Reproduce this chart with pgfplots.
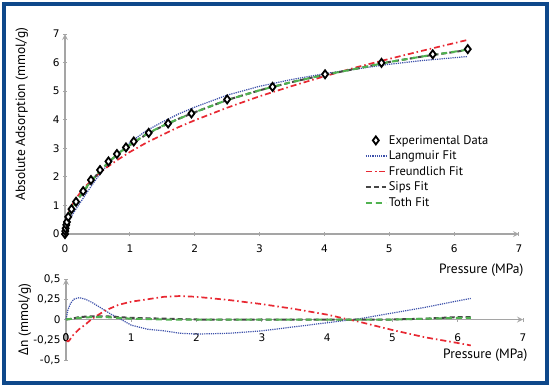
\documentclass[border=0pt]{standalone}
\usepackage{pgfplots}
\pgfplotsset{compat=1.18}
\usepackage{fontspec}
\setmainfont{PT Sans}
\newfontfamily\tickfont{DejaVu Sans}
\newfontfamily\greekfont{Open Sans}
\definecolor{frameblue}{RGB}{14,72,138}
\definecolor{lblue}{RGB}{60,80,170}
\definecolor{fred}{RGB}{232,40,50}
\definecolor{sgray}{RGB}{70,70,70}
\definecolor{tgreen}{RGB}{80,178,80}
\definecolor{axgray}{RGB}{165,165,165}

\pgfplotstableread{
x y
0 0
0.005 0.10
0.01 0.20
0.02 0.32
0.03 0.42
0.05 0.60
0.10 0.87
0.17 1.13
0.28 1.50
0.40 1.89
0.54 2.24
0.67 2.54
0.80 2.80
0.94 3.03
1.06 3.24
1.29 3.54
1.59 3.87
1.95 4.22
2.50 4.71
3.20 5.15
4.01 5.59
4.88 5.99
5.67 6.29
6.21 6.47
}\expdata

% x  Langmuir  Freundlich  Sips  Toth
\pgfplotstableread{
x L F S T
0 0 0 0 0
0.005 0.07 0.24 0.10 0.10
0.01 0.13 0.33 0.18 0.18
0.02 0.21 0.45 0.29 0.30
0.05 0.43 0.70 0.59 0.60
0.10 0.63 0.97 0.86 0.87
0.20 0.98 1.34 1.22 1.23
0.30 1.32 1.63 1.53 1.55
0.40 1.66 1.86 1.83 1.84
0.50 1.98 2.07 2.10 2.11
0.60 2.27 2.26 2.34 2.35
0.70 2.54 2.42 2.57 2.57
0.80 2.78 2.58 2.77 2.78
1.00 3.20 2.87 3.11 3.12
1.25 3.61 3.19 3.48 3.49
1.50 3.92 3.47 3.77 3.78
1.75 4.20 3.74 4.03 4.03
2.00 4.44 3.98 4.26 4.26
2.50 4.86 4.42 4.69 4.69
3.00 5.17 4.82 5.03 5.03
3.50 5.41 5.18 5.32 5.32
4.00 5.61 5.52 5.57 5.57
4.50 5.78 5.84 5.79 5.79
5.00 5.94 6.13 6.02 6.02
5.50 6.07 6.41 6.21 6.21
6.00 6.17 6.68 6.37 6.38
6.20 6.21 6.79 6.44 6.45
}\fits

% residuals
\pgfplotstableread{
x L
0 0
0.03 0.12
0.07 0.20
0.12 0.25
0.20 0.27
0.30 0.25
0.40 0.21
0.50 0.16
0.60 0.11
0.70 0.06
0.80 0.02
1.00 -0.07
1.25 -0.12
1.50 -0.14
1.75 -0.17
2.00 -0.18
2.50 -0.17
3.00 -0.14
3.50 -0.09
4.00 -0.04
4.50 0.01
5.00 0.08
5.50 0.15
6.00 0.23
6.20 0.26
}\resL

\pgfplotstableread{
x F
0.01 -0.26
0.03 -0.27
0.05 -0.26
0.10 -0.20
0.20 -0.12
0.30 -0.06
0.40 0.01
0.50 0.06
0.60 0.11
0.80 0.18
1.00 0.22
1.25 0.25
1.50 0.28
1.75 0.29
2.00 0.28
2.50 0.24
3.00 0.19
3.50 0.13
4.00 0.06
4.50 -0.03
5.00 -0.13
5.50 -0.22
6.00 -0.29
6.20 -0.32
}\resF

\pgfplotstableread{
x S T
0 0 0
0.10 0.01 0.01
0.20 0.03 0.02
0.40 0.04 0.03
0.60 0.04 0.03
0.80 0.03 0.02
1.00 0.02 0.01
1.50 0.01 0.00
2.00 0.00 0.00
3.00 0.00 0.00
4.00 0.00 0.00
5.00 0.00 0.00
5.50 0.01 0.01
6.00 0.03 0.02
6.20 0.03 0.02
}\resST

\begin{document}
\begin{tikzpicture}[x=1pt,y=1pt]
\path[use as bounding box] (0,0) rectangle (551,389);
\fill[white] (0,0) rectangle (551,389);
\draw[line width=4pt, draw=frameblue] (4,6) rectangle (547,385);

\pgfplotsset{
  lang/.style={lblue, line width=1.2pt, densely dotted},
  freu/.style={fred, line width=1.7pt, dash pattern=on 6pt off 3pt on 1.5pt off 3pt},
  sips/.style={sgray, line width=2pt, dash pattern=on 5pt off 3pt},
  toth/.style={tgreen, line width=2pt, dash pattern=on 6pt off 4pt},
  common/.style={
    scale only axis,
    axis line style={-, draw=axgray, line width=1.6pt},
    inner axis line style={-},
    tick style={draw=axgray, line width=1pt},
    major tick length=4pt,
    tick align=outside,
    /pgf/number format/assume math mode=true,
    tick label style={font=\tickfont\fontsize{10.5}{12}\selectfont, black},
    xmin=0, xmax=7, xtick={0,...,7},
    clip=false,
  }
}

\begin{axis}[common,
  at={(65pt,155pt)}, anchor=south west,
  width=454pt, height=200pt,
  axis lines=left,
  ymin=0, ymax=7, ytick={0,...,7},
  x tick label style={yshift=-5pt},
  xlabel={Pressure (MPa)},
  xlabel style={at={(axis description cs:1,0)}, anchor=north east, xshift=8pt, yshift=-26pt, font=\fontsize{13.5}{15}\selectfont},
  ylabel={Absolute Adsorption (mmol/g)},
  ylabel style={at={(axis description cs:-0.095,0.6)}, anchor=center, font=\fontsize{13.5}{15}\selectfont},
  legend style={at={(axis description cs:0.66,0.505)}, anchor=north west, draw=none, fill=none,
    font=\fontsize{12.5}{12.5}\selectfont, row sep=1.2pt, inner sep=0pt},
  legend cell align=left,
  legend image code/.code={\draw[mark repeat=2,mark phase=2,#1] plot coordinates {(0pt,0pt) (10pt,0pt) (20pt,0pt)};},
]
\addplot[only marks, mark=diamond*, mark size=4pt, mark options={draw=black, fill=white, line width=1.8pt, solid}]
  table[x=x,y=y] {\expdata};
\addlegendentry{Experimental Data}
\addplot[lang] table[x=x,y=L] {\fits};
\addlegendentry{Langmuir Fit}
\addplot[freu] table[x=x,y=F] {\fits};
\addlegendentry{Freundlich Fit}
\addplot[sips] table[x=x,y=S] {\fits};
\addlegendentry{Sips Fit}
\addplot[toth] table[x=x,y=T] {\fits};
\addlegendentry{Toth Fit}
\end{axis}

\begin{axis}[common,
  at={(66pt,29pt)}, anchor=south west,
  width=457pt, height=81pt,
  axis x line=middle, axis y line=left,
  ymin=-0.5, ymax=0.5, ytick={-0.5,-0.25,0,0.25,0.5},
  extra x ticks={0},
  hide obscured x ticks=false, hide obscured y ticks=false,
  y tick label style={/pgf/number format/use comma, /pgf/number format/fixed},
  x tick label style={yshift=-9pt},
  xlabel={Pressure (MPa)},
  xlabel style={at={(axis description cs:1,0)}, anchor=east, xshift=8pt, yshift=5pt, font=\fontsize{13.5}{15}\selectfont},
  ylabel={{\greekfont Δ}n (mmol/g)},
  ylabel style={at={(axis description cs:-0.09,0.5)}, anchor=center, font=\fontsize{13.5}{15}\selectfont},
]
\addplot[lang] table[x=x,y=L] {\resL};
\addplot[freu] table[x=x,y=F] {\resF};
\addplot[sips] table[x=x,y=S] {\resST};
\addplot[toth] table[x=x,y=T] {\resST};
\end{axis}
\end{tikzpicture}
\end{document}
